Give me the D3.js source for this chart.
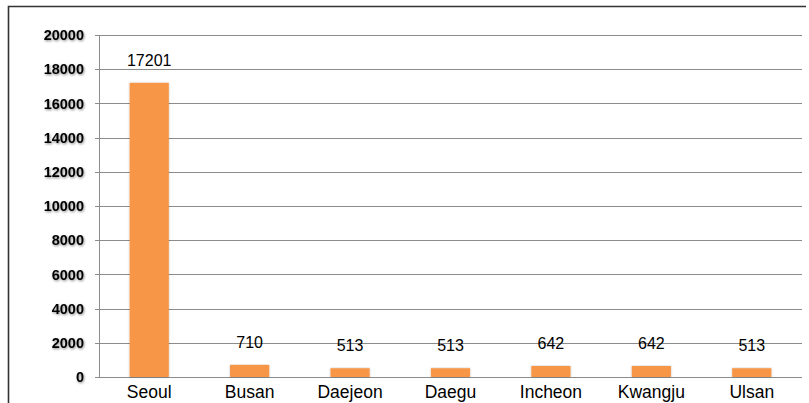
<!DOCTYPE html>
<html>
<head>
<meta charset="utf-8">
<script src="https://cdn.jsdelivr.net/npm/d3@7"></script>
<style>
  html, body { margin: 0; padding: 0; background: #fff; }
  svg { display: block; }
</style>
</head>
<body>
<svg id="chart" width="809" height="403"></svg>
<script>
// Cities and their counts
const cities = ["Seoul", "Busan", "Daejeon", "Daegu", "Incheon", "Kwangju", "Ulsan"];
const counts = [17201, 710, 513, 513, 642, 642, 513];
const yTicks = [0, 2000, 4000, 6000, 8000, 10000, 12000, 14000, 16000, 18000, 20000];

const svg = d3.select("#chart");
const W = 809, H = 403;
const plotL = 99, plotR = 802, plotT = 35, plotB = 377;
const FONT = "'Liberation Sans', Arial, sans-serif";

const defs = svg.append("defs");
const blur = defs.append("filter").attr("id", "txtShadow")
  .attr("x", "-20%").attr("y", "-20%").attr("width", "140%").attr("height", "160%");
blur.append("feDropShadow").attr("dx", 0.8).attr("dy", 1.2)
  .attr("stdDeviation", 1).attr("flood-color", "#000").attr("flood-opacity", 0.45);
const barSh = defs.append("filter").attr("id", "barShadow")
  .attr("x", "-20%").attr("y", "-5%").attr("width", "140%").attr("height", "110%");
barSh.append("feDropShadow").attr("dx", 0).attr("dy", 0)
  .attr("stdDeviation", 1.2).attr("flood-color", "#000").attr("flood-opacity", 0.25);

// frame
svg.append("path")
  .attr("d", `M8.5,${H} V6.5 H806`)
  .attr("fill", "none").attr("stroke", "#333").attr("stroke-width", 1.6);

const x = d3.scaleBand().domain(cities).range([plotL, plotR]).paddingInner(0.61).paddingOuter(0.305);
const y = d3.scaleLinear().domain([0, 20000]).range([plotB, plotT]);

// gridlines
svg.append("g").selectAll("line").data(yTicks).join("line")
  .attr("x1", plotL - 4).attr("x2", plotR)
  .attr("y1", d => Math.round(y(d)) + 0.5).attr("y2", d => Math.round(y(d)) + 0.5)
  .attr("stroke", "#8c8c8c").attr("stroke-width", 1);

// vertical axis line
svg.append("line")
  .attr("x1", plotL + 0.5).attr("x2", plotL + 0.5)
  .attr("y1", Math.round(y(20000)) + 0.5).attr("y2", Math.round(y(0)) + 0.5)
  .attr("stroke", "#8c8c8c");

// y tick labels
const yAxis = d3.axisLeft(y).tickValues(yTicks).tickSize(0).tickPadding(15).tickFormat(d3.format("d"));
const ga = svg.append("g").attr("transform", `translate(${plotL},0)`).call(yAxis);
ga.select(".domain").remove();
ga.selectAll("text")
  .attr("font-family", FONT)
  .attr("font-size", 14.5).attr("font-weight", "bold").attr("fill", "#000")
  .attr("filter", "url(#txtShadow)");

// bars
svg.append("g").selectAll("rect").data(counts).join("rect")
  .attr("x", (d, i) => x(cities[i]))
  .attr("width", x.bandwidth())
  .attr("y", d => y(d))
  .attr("height", d => y(0) - y(d))
  .attr("fill", "#f79646")
  .attr("filter", "url(#barShadow)");

// value labels
svg.append("g").selectAll("text").data(counts).join("text")
  .attr("x", (d, i) => x(cities[i]) + x.bandwidth() / 2)
  .attr("y", d => y(d) - 17)
  .attr("text-anchor", "middle")
  .attr("font-family", FONT)
  .attr("font-size", 16).attr("fill", "#000")
  .text(d => d);

// category labels
svg.append("g").selectAll("text").data(cities).join("text")
  .attr("x", d => x(d) + x.bandwidth() / 2)
  .attr("y", 398)
  .attr("text-anchor", "middle")
  .attr("font-family", FONT)
  .attr("font-size", 17.5).attr("fill", "#000")
  .text(d => d);
</script>
</body>
</html>
